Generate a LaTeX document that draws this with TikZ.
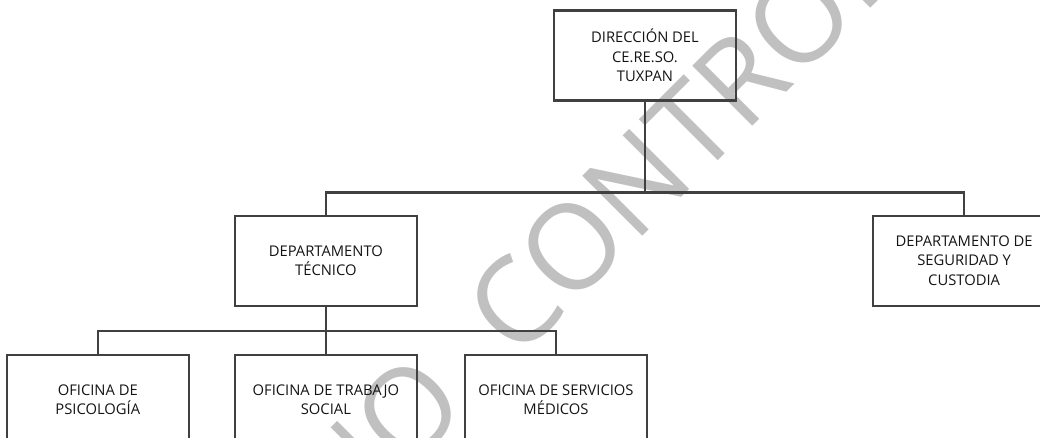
\documentclass[tikz,border=0pt]{standalone}
\usepackage{fontspec}
\setmainfont{Open Sans}
\usepackage{xcolor}
\usetikzlibrary{positioning}
\definecolor{lineGray}{RGB}{64,64,64}
\definecolor{markGray}{RGB}{192,192,192}
\tikzset{
	unit/.style = {
		draw=lineGray, line width=1.5pt, rectangle, minimum width=4.55cm, minimum height=2.25cm,
		align=center, text=black!92, font=\fontsize{10.5}{14}\selectfont
	}
}
\tikzset{
	link/.style = {
		draw=lineGray, line width=1.5pt
	}
}
\tikzset{
	watermark/.style = {
		text=markGray, inner sep=0, anchor=base west, rotate=45, font=\fontsize{84.6}{84.6}\selectfont
	}
}

\begin{document}
\begin{tikzpicture}[node distance=1.15cm]
	\useasboundingbox (-16.125,-9.5625) rectangle (9.875,1.3875);
	\clip (-16.125,-9.5625) rectangle (9.875,1.3875);

	\node[watermark](Marca) at (-7.57,-12.0325){NO\hspace{25pt} CONTROLADO};

	\node[unit](Direccion) at (0,0){DIRECCIÓN DEL\\CE.RE.SO.\\TUXPAN};
	\node[unit, below left=2.825 and 3.375 of Direccion](DeptoTecnico){DEPARTAMENTO\\TÉCNICO};
	\node[unit, below right=2.825 and 3.375 of Direccion](DeptoSeguridad){DEPARTAMENTO DE\\SEGURIDAD Y\\CUSTODIA};
	\node[unit, below=1.175 of DeptoTecnico](OfTrabajo){OFICINA DE TRABAJO\\SOCIAL};
	\node[unit, left=1.1 of OfTrabajo](OfPsicologia){OFICINA DE\\PSICOLOGÍA};
	\node[unit, right=of OfTrabajo](OfMedicos){OFICINA DE SERVICIOS\\MÉDICOS};

	\coordinate[below=2.275 of Direccion.south](TopBar);
	\coordinate[below=0.6 of DeptoTecnico.south](LowBar);

	\draw[link] (Direccion) -- (TopBar);
	\draw[link] (DeptoTecnico) |- (TopBar) -| (DeptoSeguridad);
	\draw[link] (DeptoTecnico) -- (OfTrabajo);
	\draw[link] (OfPsicologia) |- (LowBar) -| (OfMedicos);
\end{tikzpicture}
\end{document}
